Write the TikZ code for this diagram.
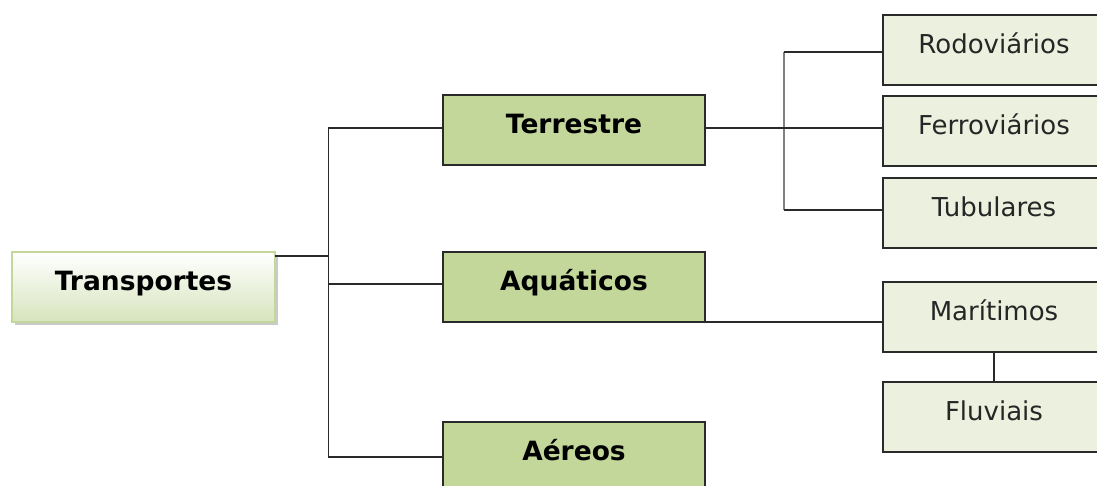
\documentclass[tikz,border=0pt]{standalone}
\usepackage{fontspec}
\setmainfont{DejaVu Sans}
\usetikzlibrary{shadows}
\definecolor{midgreen}{HTML}{C4D79B}
\definecolor{palegreen}{HTML}{EBF1DE}
\definecolor{gradgreen}{HTML}{D7E4BD}
\definecolor{rimgreen}{HTML}{C3D69B}
\definecolor{edge}{HTML}{2A2A2A}
\definecolor{darktext}{HTML}{262626}
\begin{document}
\begin{tikzpicture}[x=1pt,y=-1pt,
  every node/.style={inner sep=0pt, outer sep=0pt},
  rootbox/.style={rectangle, draw=rimgreen, line width=2pt, top color=white, bottom color=gradgreen,
    minimum width=263pt, minimum height=70pt, font=\fontsize{26.5}{30}\selectfont\bfseries,
    text height=19pt, text depth=12pt, drop shadow={shadow xshift=3pt, shadow yshift=-3pt, fill=black!35, opacity=0.6}},
  midbox/.style={rectangle, draw=edge, line width=2pt, fill=midgreen,
    minimum width=262pt, minimum height=70pt, font=\fontsize{26.5}{30}\selectfont\bfseries,
    text height=19pt, text depth=12pt},
  leafbox/.style={rectangle, draw=edge, line width=2pt, fill=palegreen, text=darktext,
    minimum width=222pt, minimum height=70pt, font=\fontsize{26}{30}\selectfont,
    text height=19pt, text depth=12pt},
  wire/.style={draw=edge, line width=1.8pt},
  greywire/.style={draw=black!50, line width=2.5pt}
]
\useasboundingbox (0,0) rectangle (1097,486);
% root
\node[rootbox] (root) at (143.5,287) {Transportes};
% middle column
\node[midbox] (terr) at (574,130.5) {Terrestre};
\node[midbox] (aqua) at (574,287) {Aquáticos};
\node[midbox] (aer) at (574,457) {Aéreos};
% right column
\node[leafbox] (rod) at (994,50) {Rodoviários};
\node[leafbox] (fer) at (994,131) {Ferroviários};
\node[leafbox] (tub) at (994,213) {Tubulares};
\node[leafbox] (mar) at (994,316.5) {Marítimos};
\node[leafbox] (flu) at (994,416.5) {Fluviais};
% coordinates
\coordinate (trunk) at (328.5,256);
\coordinate (rtrunk) at (784,128);
% connectors left
\draw[wire] (root.east |- trunk) -- (trunk);
\draw[wire] (terr.west |- 0,128) -| (trunk |- aer.west) -- (aer.west);
\draw[wire] (trunk |- 0,284) -- (aqua.west |- 0,284);
% terrestre group
\draw[greywire] (rtrunk |- 0,52) -- (rtrunk |- 0,210);
\draw[wire] (terr.east |- rtrunk) -- (fer.west |- rtrunk);
\draw[wire] (rtrunk |- 0,52) -- (rod.west |- 0,52);
\draw[wire] (rtrunk |- 0,210) -- (tub.west |- 0,210);
% aquaticos group
\draw[wire] (aqua.south east) -- (mar.west |- aqua.south east);
\draw[wire] (mar.south) -- (flu.north);
\end{tikzpicture}
\end{document}
